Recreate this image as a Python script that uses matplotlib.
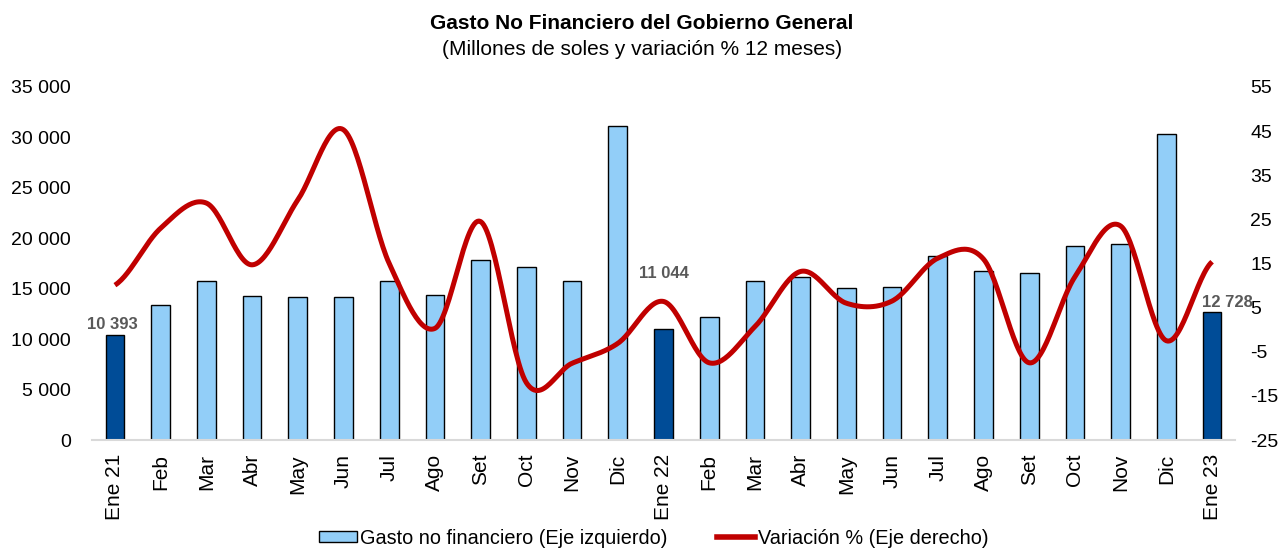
import numpy as np
import matplotlib
matplotlib.use("Agg")
import matplotlib.pyplot as plt
from matplotlib.patches import Patch
from matplotlib.lines import Line2D

plt.rcParams['font.family'] = ['Liberation Sans', 'DejaVu Sans']
plt.rcParams['axes.unicode_minus'] = False

# data
months = ["Ene 21", "Feb", "Mar", "Abr", "May", "Jun", "Jul", "Ago", "Set", "Oct", "Nov", "Dic",
          "Ene 22", "Feb", "Mar", "Abr", "May", "Jun", "Jul", "Ago", "Set", "Oct", "Nov", "Dic",
          "Ene 23"]
gasto = [10393, 13380, 15790, 14300, 14200, 14200, 15730, 14370, 17840, 17110, 15760, 31120,
         11044, 12220, 15790, 16190, 15060, 15130, 18240, 16720, 16550, 19260, 19390, 30330,
         12728]
variacion = [10.1, 23.0, 28.7, 14.7, 29.4, 45.3, 15.0, 0.3, 24.5, -12.0, -7.6, -3.1,
             6.4, -7.5, 0.7, 13.2, 6.0, 6.5, 16.2, 16.0, -7.5, 12.0, 23.5, -2.5, 15.4]
labeled = {0: "10 393", 12: "11 044", 24: "12 728"}

light = "#92CEF8"
dark = "#004C97"
red = "#C00000"


def smooth(x, y, n=30):
    # excel-style smoothed line (bezier through every point)
    x = np.asarray(x, float)
    y = np.asarray(y, float)
    px = np.concatenate([[2 * x[0] - x[1]], x, [2 * x[-1] - x[-2]]])
    py = np.concatenate([[y[0]], y, [y[-1]]])
    xs, ys = [], []
    t = np.linspace(0, 1, n)
    for i in range(1, len(px) - 2):
        p0 = np.array([px[i], py[i]])
        p3 = np.array([px[i + 1], py[i + 1]])
        p1 = p0 + (np.array([px[i + 1], py[i + 1]]) - np.array([px[i - 1], py[i - 1]])) / 6
        p2 = p3 - (np.array([px[i + 2], py[i + 2]]) - p0) / 6
        b = ((1 - t) ** 3)[:, None] * p0 + (3 * (1 - t) ** 2 * t)[:, None] * p1 \
            + (3 * (1 - t) * t ** 2)[:, None] * p2 + (t ** 3)[:, None] * p3
        xs.append(b[:, 0])
        ys.append(b[:, 1])
    return np.concatenate(xs), np.concatenate(ys)


fig = plt.figure(figsize=(12.84, 5.48), dpi=100)
ax = fig.add_axes([0.0717, 0.197, 0.8901, 0.6443])
x = np.arange(len(months))
colors = [dark if i in labeled else light for i in x]
ax.bar(x, gasto, width=0.41, color=colors, edgecolor="black", linewidth=1.0, zorder=2)

ax.set_xlim(-0.5, len(months) - 0.5)
ax.set_ylim(0, 35000)
ax.set_yticks(np.arange(0, 35001, 5000))
ax.set_yticklabels([f"{v:,}".replace(",", " ") for v in range(0, 35001, 5000)])
ax.set_xticks(x)
ax.set_xticklabels(months, rotation=90)
ax.tick_params(axis="y", length=0, pad=15, labelsize=14)
ax.tick_params(axis="x", length=0, pad=10, labelsize=15)
for s in ["top", "right", "left"]:
    ax.spines[s].set_visible(False)
ax.spines["bottom"].set_color("#D9D9D9")
ax.spines["bottom"].set_linewidth(1.5)

# data labels
offsets = {0: (-3, 350), 12: (0, 4700), 24: (15, 150)}
for i, txt in labeled.items():
    dx, dy = offsets[i]
    ax.annotate(txt, (x[i], gasto[i] + dy), xytext=(dx, 0), textcoords="offset pixels",
                ha="center", va="bottom", fontsize=12, fontweight="bold", color="#595959", zorder=5)

ax2 = ax.twinx()
sx, sy = smooth(x, variacion)
ax2.plot(sx, sy, color=red, linewidth=3.6, solid_capstyle="butt", zorder=3)
ax2.set_ylim(-25, 55)
ax2.set_yticks(np.arange(-25, 56, 10))
ax2.tick_params(axis="y", length=0, pad=11, labelsize=14)
for s in ["top", "right", "left", "bottom"]:
    ax2.spines[s].set_visible(False)

fig.text(0.5, 0.958, "Gasto No Financiero del Gobierno General", ha="center", va="center",
         fontsize=15, fontweight="bold")
fig.text(0.5, 0.91, "(Millones de soles y variación % 12 meses)", ha="center", va="center",
         fontsize=15)

handles = [Patch(facecolor=light, edgecolor="black", linewidth=1.0),
           Line2D([], [], color=red, linewidth=4)]
fig.legend(handles, ["Gasto no financiero (Eje izquierdo)", "Variación % (Eje derecho)"],
           loc="center", bbox_to_anchor=(0.509, 0.018), ncol=2, frameon=False,
           prop={"size": 14.3},
           handlelength=1.9, handleheight=0.5, handletextpad=0.15, columnspacing=2.5)

fig.savefig("out.png", dpi=100)
